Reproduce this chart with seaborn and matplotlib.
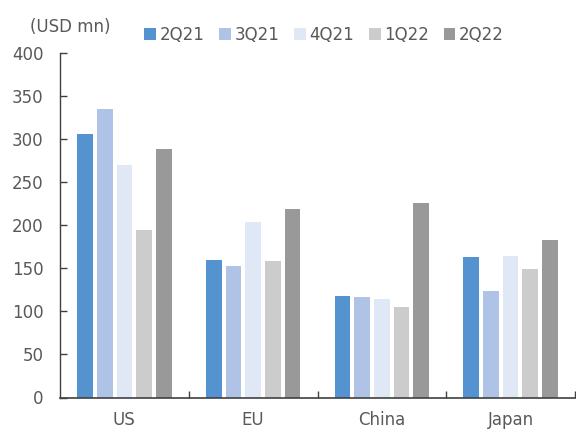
import matplotlib
matplotlib.use("Agg")
import matplotlib.pyplot as plt
import seaborn as sns
import pandas as pd
from matplotlib.ticker import FixedLocator

regions = ["US", "EU", "China", "Japan"]
quarters = ["2Q21", "3Q21", "4Q21", "1Q22", "2Q22"]
v_2q21 = [305, 159, 118, 163]
v_3q21 = [334, 152, 117, 123]
v_4q21 = [270, 204, 114, 164]
v_1q22 = [194, 158, 105, 149]
v_2q22 = [288, 219, 226, 183]
colors = ["#5592D0", "#AEC3E6", "#E0E8F6", "#CCCCCC", "#999999"]
yticks = [0, 50, 100, 150, 200, 250, 300, 350, 400]

series = [v_2q21, v_3q21, v_4q21, v_1q22, v_2q22]
rows = []
for q, vals in zip(quarters, series):
    for r, v in zip(regions, vals):
        rows.append({"Region": r, "Quarter": q, "Value": v})
df = pd.DataFrame(rows)

sns.set_theme(style="white")
plt.rcParams["font.family"] = ["DejaVu Sans"]
txt = "#595959"
fs = 12

fig = plt.figure(figsize=(5.76, 4.30), dpi=100)
ax = fig.add_axes([60/576, (430-397.5)/430, 515/576, (397.5-52.5)/430])

sns.barplot(data=df, x="Region", y="Value", hue="Quarter", order=regions,
            hue_order=quarters, palette=colors, saturation=1, width=0.764, ax=ax,
            linewidth=0, legend=True)

# narrow each bar within its slot to leave white gaps
shrink = 0.8
for p in ax.patches:
    w = p.get_width()
    if w > 0 and p.get_height() > 0:
        p.set_x(p.get_x() + w * (1 - shrink) / 2)
        p.set_width(w * shrink)

ax.set_ylim(0, 400)
ax.set_xlim(-0.5, 3.5)
ax.set_yticks(yticks)
ax.set_xlabel("")
ax.set_ylabel("")
ax.tick_params(axis="y", direction="in", length=5, width=1, color="#404040",
               labelsize=fs, labelcolor=txt, pad=12, left=True)
ax.tick_params(axis="x", which="major", length=0, labelsize=fs, labelcolor=txt, pad=10)
ax.xaxis.set_minor_locator(FixedLocator([0.5, 1.5, 2.5, 3.5]))
ax.tick_params(axis="x", which="minor", direction="in", length=5, width=1,
               color="#404040", bottom=True)
for s in ["top", "right"]:
    ax.spines[s].set_visible(False)
ax.spines["left"].set_color("#404040")
ax.spines["bottom"].set_color("#404040")
ax.spines["left"].set_linewidth(1)
ax.spines["bottom"].set_linewidth(1.2)

leg = ax.legend(loc="center", bbox_to_anchor=(324/576, 1 - 35/430),
                bbox_transform=fig.transFigure, ncol=5, frameon=False,
                fontsize=fs, handlelength=0.7, handleheight=0.7,
                handletextpad=0.2, columnspacing=0.9, borderaxespad=0)
for t in leg.get_texts():
    t.set_color(txt)

fig.text(70/576, 1 - 27/430, "(USD mn)", ha="center", va="center",
         fontsize=fs, color=txt)

fig.savefig("out.png", dpi=100)
